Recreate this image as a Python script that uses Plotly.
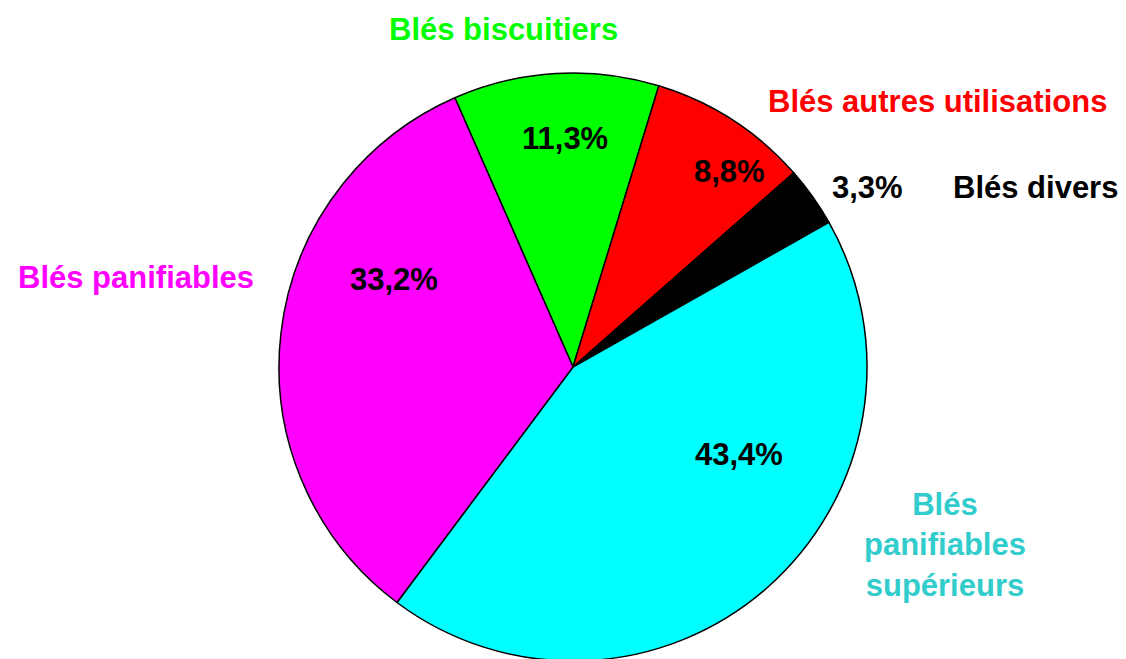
import plotly.graph_objects as go

categories = ["Blés biscuitiers", "Blés autres utilisations", "Blés divers",
              "Blés panifiables supérieurs", "Blés panifiables"]
values = [11.3, 8.8, 3.3, 43.4, 33.2]
slice_colors = ["#00FF00", "#FF0000", "#000000", "#00FFFF", "#FF00FF"]
label_colors = ["#00FF00", "#FF0000", "#000000", "#33CCCC", "#FF00FF"]
label_texts = ["Blés biscuitiers", "Blés autres utilisations", "Blés divers",
               "Blés<br>panifiables<br>supérieurs", "Blés panifiables"]

W, H = 1126, 659
OFF = 8  # page body margin
FONT = "Liberation Sans, Arial, sans-serif"
FS = 31

cx, cy, r = 573 - OFF, 367 - OFF, 294
fig = go.Figure(go.Pie(
    labels=categories,
    values=values,
    sort=False,
    direction="clockwise",
    rotation=-23.7,
    marker=dict(colors=slice_colors, line=dict(color="#000000", width=1.5)),
    textinfo="none",
    hoverinfo="label+percent",
    domain=dict(x=[(cx - 320) / W, (cx + 320) / W],
                y=[1 - (cy + r) / H, 1 - (cy - r) / H]),
    showlegend=False,
))

# label / percentage positions in pixels (layout only)
pct_pos = [(565, 138), (729, 172), (868, 188), (739, 454), (394, 279)]
name_pos = [(503, 30), (937, 101), (1035, 188), (945, 545), (136, 277)]

annotations = []
for v, (px, py) in zip(values, pct_pos):
    annotations.append(dict(
        x=(px - OFF) / W, y=1 - (py - OFF) / H, xref="paper", yref="paper",
        text=f"<b>{str(v).replace('.', ',')}%</b>", showarrow=False,
        xanchor="center", yanchor="middle",
        font=dict(family=FONT, size=FS, color="#000000")))
for t, c, (px, py) in zip(label_texts, label_colors, name_pos):
    annotations.append(dict(
        x=(px - OFF) / W, y=1 - (py - OFF) / H, xref="paper", yref="paper",
        text=f"<b>{t}</b>", showarrow=False,
        xanchor="center", yanchor="middle", align="center",
        font=dict(family=FONT, size=FS, color=c)))

fig.update_layout(
    width=W, height=H,
    margin=dict(l=0, r=0, t=0, b=0),
    paper_bgcolor="#FFFFFF", plot_bgcolor="#FFFFFF",
    annotations=annotations,
)

fig.write_html("out.html")
